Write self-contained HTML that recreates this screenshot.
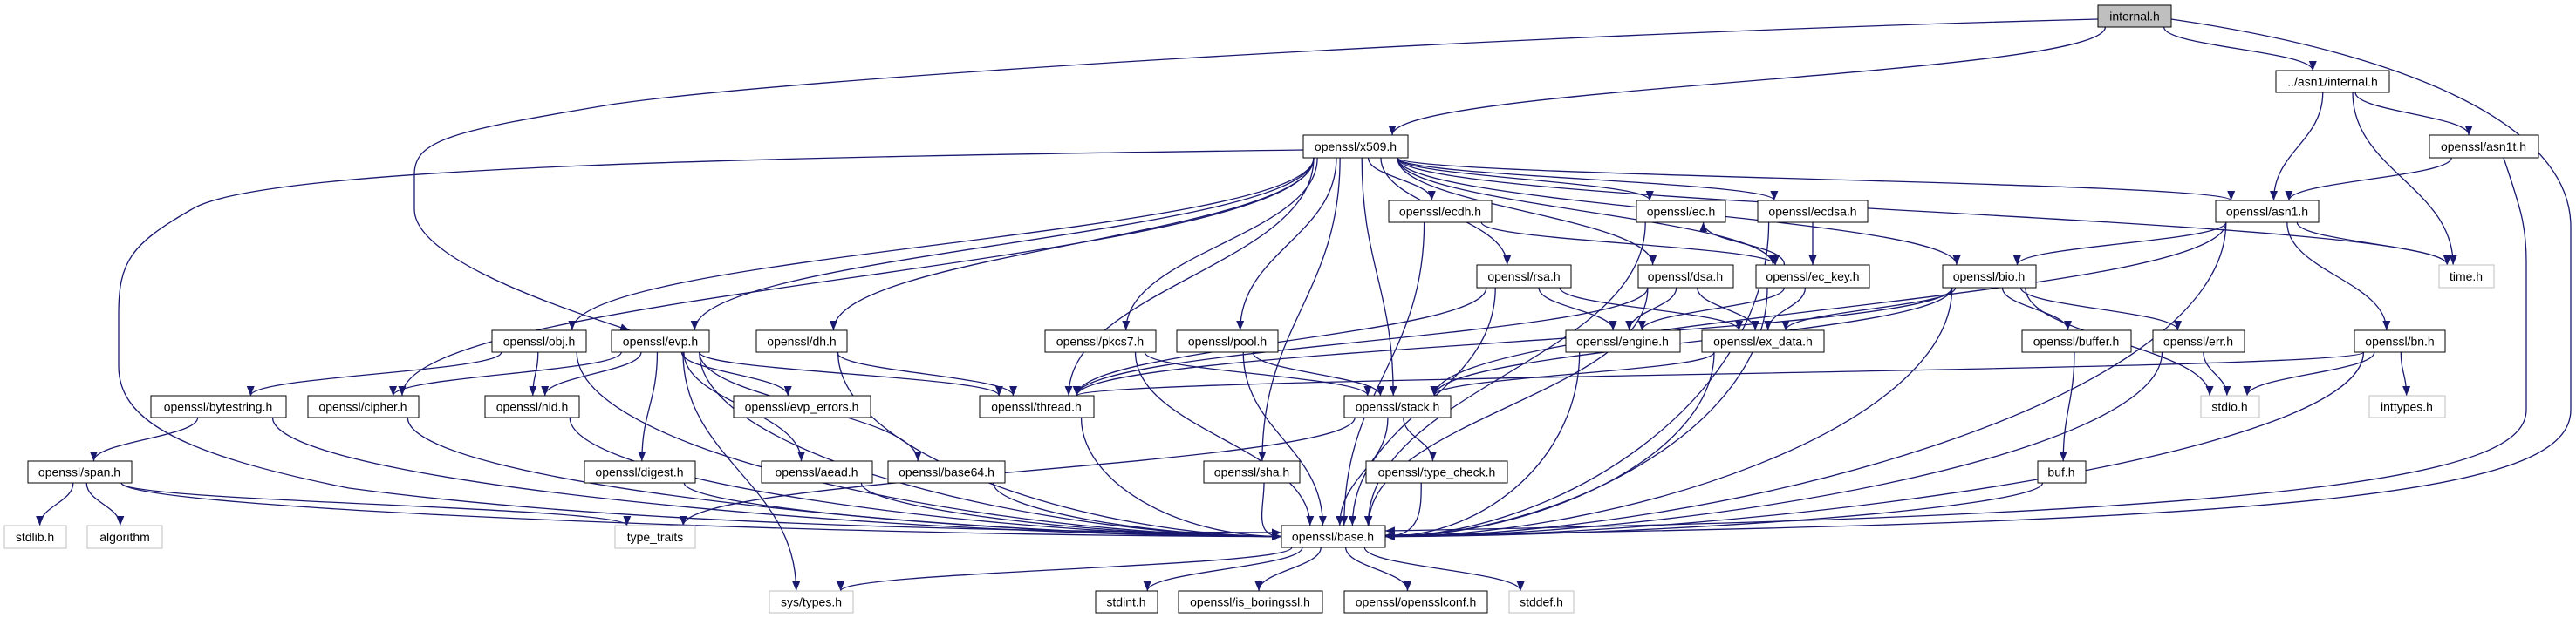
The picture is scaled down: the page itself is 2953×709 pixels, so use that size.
<!DOCTYPE html>
<html><head><meta charset="utf-8">
<style>
html,body{margin:0;padding:0;background:#fff;}
svg{display:block;}
text{font-family:"Liberation Sans",sans-serif;font-size:14px;fill:#000;}
</style></head>
<body>
<svg id="g" width="2953" height="709" viewBox="0 0 2953 709" xmlns="http://www.w3.org/2000/svg">
<defs>
<marker id="ah" markerUnits="userSpaceOnUse" markerWidth="12" markerHeight="9" refX="11" refY="4.5" orient="auto">
<path d="M0,0 L11,4.5 L0,9 z" fill="#191970"/>
</marker>
</defs>
<g id="edges" fill="none" stroke="#191970" stroke-width="1.3"></g>
<g id="nodes">
<rect x="2405" y="6" width="84" height="25" fill="#bfbfbf" stroke="#000"/><text x="2447" y="23.5" text-anchor="middle">internal.h</text>
<rect x="2609" y="81" width="130" height="25" fill="#fff" stroke="#000"/><text x="2674" y="98.5" text-anchor="middle">../asn1/internal.h</text>
<rect x="1494" y="155" width="120" height="26" fill="#fff" stroke="#000"/><text x="1554" y="173" text-anchor="middle">openssl/x509.h</text>
<rect x="2785" y="155" width="125" height="26" fill="#fff" stroke="#000"/><text x="2847" y="173" text-anchor="middle">openssl/asn1t.h</text>
<rect x="1592" y="230" width="118" height="25" fill="#fff" stroke="#000"/><text x="1651" y="247.5" text-anchor="middle">openssl/ecdh.h</text>
<rect x="1876" y="230" width="102" height="25" fill="#fff" stroke="#000"/><text x="1927" y="247.5" text-anchor="middle">openssl/ec.h</text>
<rect x="2015" y="230" width="126" height="25" fill="#fff" stroke="#000"/><text x="2078" y="247.5" text-anchor="middle">openssl/ecdsa.h</text>
<rect x="2540" y="230" width="118" height="25" fill="#fff" stroke="#000"/><text x="2599" y="247.5" text-anchor="middle">openssl/asn1.h</text>
<rect x="1693" y="304" width="108" height="26" fill="#fff" stroke="#000"/><text x="1747" y="322" text-anchor="middle">openssl/rsa.h</text>
<rect x="1878" y="304" width="109" height="26" fill="#fff" stroke="#000"/><text x="1932" y="322" text-anchor="middle">openssl/dsa.h</text>
<rect x="2013" y="304" width="130" height="26" fill="#fff" stroke="#000"/><text x="2078" y="322" text-anchor="middle">openssl/ec_key.h</text>
<rect x="2227" y="304" width="107" height="26" fill="#fff" stroke="#000"/><text x="2280" y="322" text-anchor="middle">openssl/bio.h</text>
<rect x="2796" y="304" width="63" height="26" fill="#fff" stroke="#bfbfbf"/><text x="2827" y="322" text-anchor="middle">time.h</text>
<rect x="564" y="379" width="108" height="25" fill="#fff" stroke="#000"/><text x="618" y="396.5" text-anchor="middle">openssl/obj.h</text>
<rect x="701" y="379" width="112" height="25" fill="#fff" stroke="#000"/><text x="757" y="396.5" text-anchor="middle">openssl/evp.h</text>
<rect x="867" y="379" width="104" height="25" fill="#fff" stroke="#000"/><text x="919" y="396.5" text-anchor="middle">openssl/dh.h</text>
<rect x="1198" y="379" width="127" height="25" fill="#fff" stroke="#000"/><text x="1261" y="396.5" text-anchor="middle">openssl/pkcs7.h</text>
<rect x="1349" y="379" width="116" height="25" fill="#fff" stroke="#000"/><text x="1407" y="396.5" text-anchor="middle">openssl/pool.h</text>
<rect x="1795" y="379" width="131" height="25" fill="#fff" stroke="#000"/><text x="1860" y="396.5" text-anchor="middle">openssl/engine.h</text>
<rect x="1951" y="379" width="140" height="25" fill="#fff" stroke="#000"/><text x="2021" y="396.5" text-anchor="middle">openssl/ex_data.h</text>
<rect x="2318" y="379" width="125" height="25" fill="#fff" stroke="#000"/><text x="2380" y="396.5" text-anchor="middle">openssl/buffer.h</text>
<rect x="2468" y="379" width="105" height="25" fill="#fff" stroke="#000"/><text x="2520" y="396.5" text-anchor="middle">openssl/err.h</text>
<rect x="2699" y="379" width="104" height="25" fill="#fff" stroke="#000"/><text x="2751" y="396.5" text-anchor="middle">openssl/bn.h</text>
<rect x="173" y="454" width="155" height="25" fill="#fff" stroke="#000"/><text x="250" y="471.5" text-anchor="middle">openssl/bytestring.h</text>
<rect x="353" y="454" width="127" height="25" fill="#fff" stroke="#000"/><text x="416" y="471.5" text-anchor="middle">openssl/cipher.h</text>
<rect x="556" y="454" width="108" height="25" fill="#fff" stroke="#000"/><text x="610" y="471.5" text-anchor="middle">openssl/nid.h</text>
<rect x="841" y="454" width="157" height="25" fill="#fff" stroke="#000"/><text x="919" y="471.5" text-anchor="middle">openssl/evp_errors.h</text>
<rect x="1123" y="454" width="131" height="25" fill="#fff" stroke="#000"/><text x="1188" y="471.5" text-anchor="middle">openssl/thread.h</text>
<rect x="1541" y="454" width="122" height="25" fill="#fff" stroke="#000"/><text x="1602" y="471.5" text-anchor="middle">openssl/stack.h</text>
<rect x="2523" y="454" width="67" height="25" fill="#fff" stroke="#bfbfbf"/><text x="2556" y="471.5" text-anchor="middle">stdio.h</text>
<rect x="2716" y="454" width="87" height="25" fill="#fff" stroke="#bfbfbf"/><text x="2759" y="471.5" text-anchor="middle">inttypes.h</text>
<rect x="32" y="529" width="119" height="25" fill="#fff" stroke="#000"/><text x="91" y="546.5" text-anchor="middle">openssl/span.h</text>
<rect x="670" y="529" width="127" height="25" fill="#fff" stroke="#000"/><text x="733" y="546.5" text-anchor="middle">openssl/digest.h</text>
<rect x="873" y="529" width="127" height="25" fill="#fff" stroke="#000"/><text x="936" y="546.5" text-anchor="middle">openssl/aead.h</text>
<rect x="1018" y="529" width="134" height="25" fill="#fff" stroke="#000"/><text x="1085" y="546.5" text-anchor="middle">openssl/base64.h</text>
<rect x="1380" y="529" width="110" height="25" fill="#fff" stroke="#000"/><text x="1435" y="546.5" text-anchor="middle">openssl/sha.h</text>
<rect x="1566" y="529" width="162" height="25" fill="#fff" stroke="#000"/><text x="1647" y="546.5" text-anchor="middle">openssl/type_check.h</text>
<rect x="2336" y="529" width="55" height="25" fill="#fff" stroke="#000"/><text x="2363" y="546.5" text-anchor="middle">buf.h</text>
<rect x="5" y="603" width="71" height="26" fill="#fff" stroke="#bfbfbf"/><text x="40" y="621" text-anchor="middle">stdlib.h</text>
<rect x="100" y="603" width="86" height="26" fill="#fff" stroke="#bfbfbf"/><text x="143" y="621" text-anchor="middle">algorithm</text>
<rect x="705" y="603" width="92" height="26" fill="#fff" stroke="#bfbfbf"/><text x="751" y="621" text-anchor="middle">type_traits</text>
<rect x="1469" y="603" width="119" height="25" fill="#fff" stroke="#000"/><text x="1528" y="620.5" text-anchor="middle">openssl/base.h</text>
<rect x="882" y="678" width="96" height="25" fill="#fff" stroke="#bfbfbf"/><text x="930" y="695.5" text-anchor="middle">sys/types.h</text>
<rect x="1256" y="678" width="71" height="25" fill="#fff" stroke="#000"/><text x="1291" y="695.5" text-anchor="middle">stdint.h</text>
<rect x="1351" y="678" width="165" height="25" fill="#fff" stroke="#000"/><text x="1433" y="695.5" text-anchor="middle">openssl/is_boringssl.h</text>
<rect x="1541" y="678" width="164" height="25" fill="#fff" stroke="#000"/><text x="1623" y="695.5" text-anchor="middle">openssl/opensslconf.h</text>
<rect x="1730" y="678" width="74" height="25" fill="#fff" stroke="#bfbfbf"/><text x="1767" y="695.5" text-anchor="middle">stddef.h</text>
</g>
</svg>
<script>
var N={
internal:[2405,6,84,25],a1int:[2609,81,130,25],x509:[1494,155,120,26],asn1t:[2785,155,125,26],
ecdh:[1592,230,118,25],ec:[1876,230,102,25],ecdsa:[2015,230,126,25],asn1:[2540,230,118,25],
rsa:[1693,304,108,26],dsa:[1878,304,109,26],eckey:[2013,304,130,26],bio:[2227,304,107,26],time:[2796,304,63,26],
obj:[564,379,108,25],evp:[701,379,112,25],dh:[867,379,104,25],pkcs7:[1198,379,127,25],pool:[1349,379,116,25],
engine:[1795,379,131,25],exdata:[1951,379,140,25],buffer:[2318,379,125,25],err:[2468,379,105,25],bn:[2699,379,104,25],
bytestring:[173,454,155,25],cipher:[353,454,127,25],nid:[556,454,108,25],evperr:[841,454,157,25],thread:[1123,454,131,25],
stack:[1541,454,122,25],stdio:[2523,454,67,25],inttypes:[2716,454,87,25],
span:[32,529,119,25],digest:[670,529,127,25],aead:[873,529,127,25],base64:[1018,529,134,25],sha:[1380,529,110,25],
typecheck:[1566,529,162,25],buf:[2336,529,55,25],
stdlib:[5,603,71,26],algorithm:[100,603,86,26],typetraits:[705,603,92,26],base:[1469,603,119,25],
systypes:[882,678,96,25],stdint:[1256,678,71,25],isb:[1351,678,165,25],osslconf:[1541,678,164,25],stddef:[1730,678,74,25]};
var E=[
"internal a1int","internal x509",
"a1int asn1","a1int time","a1int asn1t","asn1t asn1",
"x509 asn1","x509 bio","x509 cipher","x509 dh","x509 dsa","x509 ec","x509 ecdh","x509 ecdsa","x509 evp","x509 obj",
"x509 pkcs7","x509 pool","x509 rsa","x509 sha","x509 stack","x509 thread","x509 time","x509 eckey",
"asn1 base","asn1 bio","asn1 bn","asn1 stack","asn1 time",
"bio base","bio buffer","bio err","bio exdata","bio stack","bio stdio","bio thread",
"bn base","bn inttypes","bn stdio","bn thread","err base","err stdio","buffer buf","buf base",
"ec base","ecdh eckey","ecdh base","ecdsa eckey","ecdsa base","eckey ec","eckey engine","eckey exdata","eckey base",
"dsa base","dsa engine","dsa exdata","dsa thread","rsa base","rsa engine","rsa exdata","rsa thread",
"dh base","dh thread","engine base","exdata base","exdata stack",
"evp aead","evp base","evp base64","evp cipher","evp digest","evp evperr","evp nid","evp thread","evp systypes",
"obj bytestring","obj nid","obj base","bytestring span","bytestring base",
"span stdlib","span algorithm","span typetraits","span base",
"cipher base","nid base","digest base","aead base","base64 base","thread base",
"stack base","stack typecheck","stack typetraits","typecheck base","pkcs7 base","pkcs7 stack","pool base","pool stack","sha base",
"base stdint","base isb","base osslconf","base stddef","base systypes"];
var g=document.getElementById('edges'),ns="http://www.w3.org/2000/svg";
function add(d){var p=document.createElementNS(ns,'path');p.setAttribute('d',d);p.setAttribute('marker-end','url(#ah)');g.appendChild(p);}
E.forEach(function(s){
 var a=s.split(' '),S=N[a[0]],T=N[a[1]];
 var scx=S[0]+S[2]/2,tcx=T[0]+T[2]/2;
 if(T[1]<S[1]){
   var sx=scx-S[2]*0.25,sy=S[1],tx=tcx+T[2]*0.25,ty=T[1]+T[3];
   add("M"+sx+","+sy+" C"+sx+","+(sy-25)+" "+tx+","+(ty+25)+" "+tx+","+ty);return;}
 var sy=S[1]+S[3],ty=T[1],dx=tcx-scx,dy=ty-sy;
 var sx=scx+Math.max(-S[2]*0.4,Math.min(S[2]*0.4,dx*0.15));
 var tx,ty2,d;
 if(a[1]=="base" && Math.abs(dx)>dy*1.5){
   tx=dx>0?T[0]:T[0]+T[2]; ty2=T[1]+T[3]/2;
   d="M"+sx+","+sy+" C"+sx+","+(sy+dy*0.6)+" "+(tx-(dx>0?1:-1)*Math.abs(dx)*0.35)+","+ty2+" "+tx+","+ty2;
 } else {
   tx=tcx-Math.max(-T[2]*0.35,Math.min(T[2]*0.35,dx*0.1)); ty2=ty;
   d="M"+sx+","+sy+" C"+sx+","+(sy+dy*0.45)+" "+tx+","+(ty2-dy*0.45)+" "+tx+","+ty2;
 }
 add(d);
});
add("M2405,22 C1700,40 900,90 700,120 C520,150 475,160 475,200 L475,240 C475,290 600,340 722,379");
add("M1494,172 C900,180 300,190 220,240 C150,280 136,300 136,360 L136,420 C136,480 200,520 400,560 C700,600 1100,610 1469,611");
add("M2489,22 C2750,60 2947,140 2947,260 L2947,470 C2947,560 2700,600 1588,614");
add("M2870,181 C2890,240 2896,260 2896,300 L2896,470 C2896,540 2700,590 1588,609");
</script>
</body></html>
